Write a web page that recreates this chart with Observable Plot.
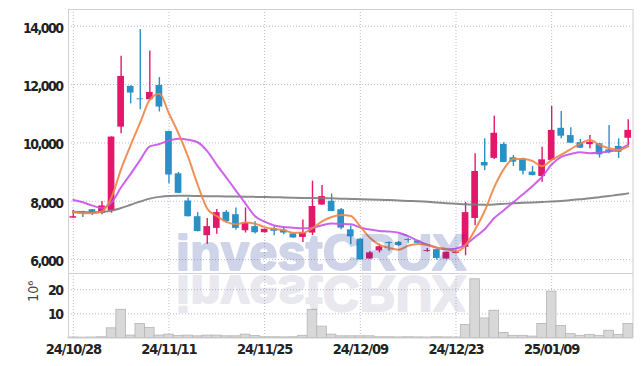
<!DOCTYPE html>
<html><head><meta charset="utf-8">
<script src="https://cdn.jsdelivr.net/npm/d3@7"></script>
<script src="https://cdn.jsdelivr.net/npm/@observablehq/plot@0.6"></script>
<style>
html,body{margin:0;padding:0;background:#fff;}
#chart{position:relative;width:642px;height:366px;overflow:hidden;}
#chart svg{display:block;}
#wm{position:absolute;left:0;top:0;pointer-events:none;}
#chart g[aria-label="y-axis tick label"] text{letter-spacing:-1.5px;}
#chart g[aria-label="x-axis tick label"] text{letter-spacing:-1.1px;}
</style></head><body><div id="chart"></div>
<script>
const dates = [
"24/10/28","24/10/29","24/10/30","24/10/31","24/11/01",
"24/11/04","24/11/05","24/11/06","24/11/07","24/11/08",
"24/11/11","24/11/12","24/11/13","24/11/14","24/11/15",
"24/11/18","24/11/19","24/11/20","24/11/21","24/11/22",
"24/11/25","24/11/26","24/11/27","24/11/28","24/11/29",
"24/12/02","24/12/03","24/12/04","24/12/05","24/12/06",
"24/12/09","24/12/10","24/12/11","24/12/12","24/12/13",
"24/12/16","24/12/17","24/12/18","24/12/19","24/12/20",
"24/12/23","24/12/24","24/12/26","24/12/27","24/12/30",
"25/01/02","25/01/03","25/01/06","25/01/07","25/01/08",
"25/01/09","25/01/10","25/01/13","25/01/14","25/01/15",
"25/01/16","25/01/17","25/01/20","25/01/21"];
const opens = [
7420,7640,7710,7590,7680,10540,11940,11510,11480,11970,
10390,8940,8010,7470,6820,7070,7620,7540,6990,7130,
6920,7060,7010,6880,6760,6910,7870,8000,7710,7020,
6700,6020,6300,6580,6590,6690,6640,6280,6340,6020,
6210,6420,7410,9330,9470,9950,9490,9450,9000,8850,
9400,10500,10250,10010,9940,9970,9760,9880,10160];
const highs = [
7680,7660,7720,7990,10210,12970,11960,13890,13150,12240,
10400,8990,8110,7610,7410,7720,7680,7770,7770,7300,
7040,7130,7100,6900,7360,8690,8540,8250,7750,7150,
6710,6280,6530,6600,6620,6740,6660,6380,6350,6260,
6300,7960,9630,10140,10910,10010,9570,9470,9190,9850,
11250,11080,10520,10120,10250,9980,10600,10140,10790];
const lows = [
7420,7440,7510,7540,7590,10310,11340,11140,11460,11060,
8600,8260,7460,6950,6530,6870,7240,7010,6910,6880,
6910,6820,6850,6730,6590,6820,7860,7640,7020,6510,
5980,6010,6230,6290,6450,6560,6540,6250,5980,6010,
6190,6130,7160,9050,9430,9320,9190,8900,8870,8650,
9380,10140,9980,9810,9800,9480,9630,9470,9910];
const closes = [
7470,7600,7590,7840,10200,12280,11710,11480,11730,11230,
8900,8270,7470,6960,7130,7610,7300,7070,7240,6920,
7040,6970,6910,6740,6930,7820,8160,7650,7080,6780,
5990,6230,6440,6550,6480,6660,6560,6310,6040,6250,
6240,7610,9020,9210,10330,9330,9340,9030,8880,9420,
10430,10230,9990,9820,10020,9590,9680,9680,10430];
const ma5 = [
7620,7585,7585,7654,8138,9102,9924,10702,11480,11686,
11010,10322,9520,8566,7746,7488,7294,7214,7270,7228,
7114,7048,7016,6916,6918,7074,7312,7460,7528,7498,
7132,6746,6504,6398,6338,6472,6538,6512,6410,6364,
6280,6490,7032,7666,8482,9100,9446,9448,9382,9200,
9420,9598,9790,9978,10098,9930,9820,9758,9880];
const ma10 = [
8045,7963,7850,7770,7960,8480,8940,9420,9880,9960,
10080,10140,10111,10023,9716,9249,8808,8367,7918,7487,
7301,7171,7115,7093,7073,7094,7180,7238,7222,7208,
7103,7029,6982,6963,6918,6802,6642,6508,6404,6351,
6376,6514,6772,7038,7423,7690,7968,8240,8524,8841,
9260,9522,9619,9680,9649,9675,9709,9774,9929];
const ma60 = [
7640,7630,7620,7630,7680,7770,7880,7990,8090,8150,
8180,8185,8185,8180,8175,8170,8165,8160,8155,8150,
8145,8140,8130,8120,8115,8110,8105,8100,8090,8080,
8070,8060,8050,8040,8025,8010,8000,7985,7960,7935,
7915,7895,7885,7880,7890,7910,7930,7945,7960,7975,
7990,8010,8040,8070,8100,8140,8180,8220,8270];
const volumes = [ // millions
0.2,0.15,0.2,0.3,4.0,11.7,1.0,5.8,4.2,1.0,
1.4,0.8,1.0,0.7,1.0,1.0,0.7,0.7,1.4,0.8,
0.3,0.3,0.25,0.3,0.9,11.7,4.7,1.4,0.7,0.7,
0.7,0.7,0.3,0.3,0.25,0.3,0.25,0.2,0.3,0.25,
0.2,5.4,24.3,8.1,11.3,2.1,0.9,0.9,0.6,5.8,
19.2,5.0,1.6,0.9,1.3,0.9,3.0,1.3,5.8];
const xTickLabels = ["24/10/28","24/11/11","24/11/25","24/12/09","24/12/23","25/01/09"];
const priceTicks = [6000, 8000, 10000, 12000, 14000];
const volTicks = [10, 20];
const volUnit = "10⁶";
const watermark = "investCRUX";

const FONT = "'DejaVu Sans Condensed','Liberation Sans',sans-serif";
const RED = "#e2186b", BLUE = "#2a91c7";
const rows = dates.map((d, i) => ({i, o: opens[i], h: highs[i], l: lows[i], c: closes[i],
  m5: ma5[i], m10: ma10[i], m60: ma60[i], v: volumes[i]}));
const upRows = rows.filter(d => d.c >= d.o);
const dnRows = rows.filter(d => d.c < d.o);
const xTickIdx = xTickLabels.map(t => dates.indexOf(t));
const xDomain = [-0.5, dates.length - 0.5];
const grid = {stroke: "#b9bcd2", strokeOpacity: 1, strokeDasharray: "1,2", strokeWidth: 1};
const axisText = {tickSize: 0, label: null, fontFamily: FONT, fontWeight: "bold", fill: "#222"};
const HW = 0.35;

const pricePlot = Plot.plot({
  width: 642, height: 273, marginLeft: 68, marginRight: 9.5, marginTop: 9, marginBottom: 0,
  x: {domain: xDomain, axis: null},
  y: {domain: [5523, 14574], axis: null},
  marks: [
    Plot.gridX(xTickIdx, grid),
    Plot.gridY(priceTicks, grid),
    Plot.ruleX(upRows, {x: "i", y1: "l", y2: "h", stroke: RED, strokeWidth: 1.4}),
    Plot.ruleX(dnRows, {x: "i", y1: "l", y2: "h", stroke: BLUE, strokeWidth: 1.4}),
    Plot.rectY(upRows, {x1: d => d.i - HW, x2: d => d.i + HW, y1: "o", y2: "c", fill: RED}),
    Plot.rectY(dnRows, {x1: d => d.i - HW, x2: d => d.i + HW, y1: "o", y2: "c", fill: BLUE}),
    Plot.line(rows, {x: "i", y: "m60", stroke: "#7d7d7d", strokeWidth: 2, curve: "monotone-x", strokeOpacity: 0.9}),
    Plot.line(rows, {x: "i", y: "m10", stroke: "#c752e8", strokeWidth: 2, curve: "monotone-x", strokeOpacity: 0.9}),
    Plot.line(rows, {x: "i", y: "m5", stroke: "#ee8547", strokeWidth: 2, curve: "monotone-x", strokeOpacity: 0.9}),
    Plot.axisY(priceTicks, {...axisText, anchor: "left", tickPadding: 6, fontSize: 14, dy: 2,
      tickFormat: d3.format(",")}),
    Plot.frame({stroke: "#cfcfd6"})
  ]
});

const volPlot = Plot.plot({
  width: 642, height: 93, marginLeft: 68, marginRight: 9.5, marginTop: 0, marginBottom: 28.5,
  x: {domain: xDomain, axis: null},
  y: {domain: [0, 26.7], axis: null},
  marks: [
    Plot.gridX(xTickIdx, grid),
    Plot.gridY(volTicks, grid),
    Plot.rectY(rows, {x1: d => d.i - 0.5, x2: d => d.i + 0.5, y1: 0, y2: "v",
      fill: "#d8d8d8", stroke: "#b4b4b4", strokeWidth: 0.8}),
    Plot.axisY(volTicks, {...axisText, anchor: "left", tickPadding: 6, fontSize: 14, dy: 1}),
    Plot.axisX(xTickIdx, {...axisText, anchor: "bottom", tickPadding: 6, fontSize: 14.5,
      tickFormat: i => dates[i]}),
    Plot.text([volUnit], {text: d => d, frameAnchor: "left", dx: -35, dy: -4, rotate: -90,
      fontSize: 14, fontFamily: "'DejaVu Sans Condensed',sans-serif", fill: "#444"}),
    Plot.frame({stroke: "#cfcfd6"})
  ]
});

const chart = document.getElementById("chart");
chart.append(pricePlot, volPlot);

// watermark overlay (semi-transparent, drawn above the marks)
const wm = d3.select(chart).append("svg").attr("id", "wm").attr("width", 642).attr("height", 366);
const g1 = wm.append("g").attr("opacity", 0.21);
g1.append("text").attr("x", 176).attr("y", 270)
  .attr("font-family", "'Liberation Sans',Arial,sans-serif").attr("font-weight", "bold")
  .attr("font-size", 50).attr("letter-spacing", 0.4)
  .attr("fill", "rgb(35,55,150)").attr("stroke", "rgb(35,55,150)").attr("stroke-width", 2.2)
  .attr("stroke-linejoin", "round").text(watermark);
const g2 = wm.append("g").attr("opacity", 0.1);
g2.append("text").attr("x", 176).attr("y", 270).attr("transform", "translate(0,546) scale(1,-1)")
  .attr("font-family", "'Liberation Sans',Arial,sans-serif").attr("font-weight", "bold")
  .attr("font-size", 50).attr("letter-spacing", 0.4)
  .attr("fill", "rgb(40,40,100)").attr("stroke", "rgb(40,40,100)").attr("stroke-width", 2.2)
  .attr("stroke-linejoin", "round").text(watermark);
</script></body></html>
